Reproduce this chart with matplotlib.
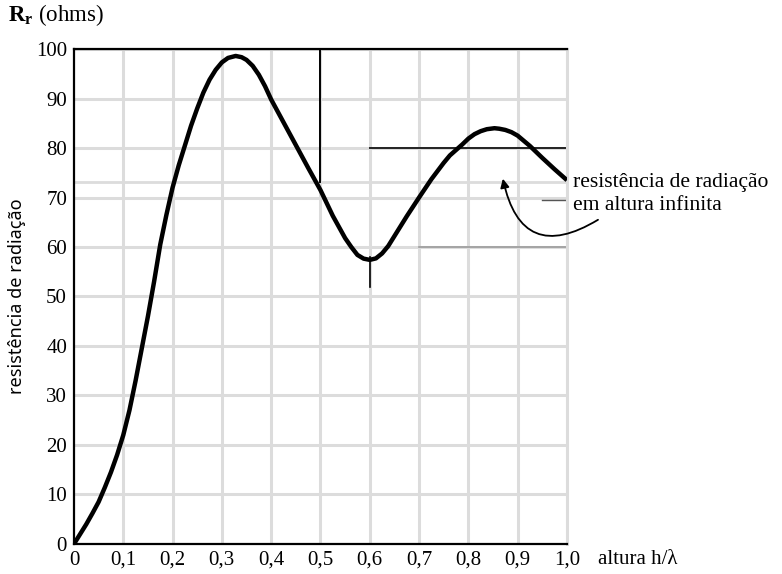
import matplotlib
matplotlib.use("Agg")
import matplotlib.pyplot as plt

# valores (altura h/lambda, resistência em ohms)
altura = [0.0, 0.0125, 0.025, 0.0375, 0.05, 0.0625, 0.075, 0.0875, 0.1, 0.1125,
          0.125, 0.1375, 0.15, 0.1625, 0.175, 0.1875,
          0.2, 0.2125, 0.225, 0.2375, 0.25, 0.2625, 0.275, 0.2875, 0.3, 0.3125,
          0.328, 0.34, 0.35, 0.3625, 0.375, 0.3875, 0.4, 0.425, 0.45, 0.475,
          0.5, 0.525, 0.55, 0.5625, 0.575, 0.5875, 0.6, 0.6125, 0.625, 0.6375,
          0.65, 0.675, 0.7, 0.725, 0.75, 0.7625, 0.775, 0.7875, 0.8, 0.8125,
          0.825, 0.8375, 0.853, 0.8625, 0.875, 0.8875, 0.9, 0.925, 0.95, 0.975, 1.0]
resistencia = [0.0, 2.0, 4.0, 6.2, 8.5, 11.4, 14.5, 18.0, 22.0, 27.0,
               33.0, 39.5, 46.0, 53.0, 60.5, 66.5,
               72.0, 76.5, 80.5, 84.5, 88.0, 91.2, 93.8, 95.8, 97.3, 98.2,
               98.6, 98.35, 97.8, 96.6, 94.8, 92.5, 89.8, 85.2, 80.6, 76.0,
               71.5, 66.3, 61.8, 60.0, 58.4, 57.65, 57.4, 57.7, 58.7, 60.2,
               62.2, 66.2, 70.0, 73.7, 77.0, 78.5, 79.6, 80.7, 81.9, 82.8,
               83.4, 83.8, 84.0, 83.9, 83.65, 83.2, 82.5, 80.4, 78.0, 75.7, 73.5]

x_ticks = [0.0, 0.1, 0.2, 0.3, 0.4, 0.5, 0.6, 0.7, 0.8, 0.9, 1.0]
x_labels = ["0", "0,1", "0,2", "0,3", "0,4", "0,5", "0,6", "0,7", "0,8", "0,9", "1,0"]
y_ticks = [0, 10, 20, 30, 40, 50, 60, 70, 80, 90, 100]
r_infinito = 73.1

plt.rcParams["font.family"] = ["Liberation Serif", "DejaVu Serif"]
plt.rcParams["mathtext.fontset"] = "custom"
plt.rcParams["mathtext.rm"] = "Liberation Serif"
plt.rcParams["mathtext.bf"] = "Liberation Serif:bold"

fig = plt.figure(figsize=(7.82, 5.74), dpi=100)
ax = fig.add_axes([0.0946, 0.0523, 0.6304, 0.8623])

grid_c = "#dcdcdc"
for xv in x_ticks[1:]:
    ax.axvline(xv, color=grid_c, lw=2.2, zorder=1)
for yv in y_ticks[1:]:
    ax.axhline(yv, color=grid_c, lw=2.2, zorder=1)
ax.axhline(r_infinito, color=grid_c, lw=2.0, zorder=1)

# linhas escuras do desenho original
ax.plot([0.5, 0.5], [r_infinito, 100], color="black", lw=1.4, zorder=2)
ax.plot([0.6, 1.0], [80, 80], color="#222222", lw=1.4, zorder=2)
ax.plot([0.6, 0.6], [52, 58], color="black", lw=1.2, zorder=2)
ax.plot([0.7, 1.0], [60, 60], color="#9a9a9a", lw=1.2, zorder=2)
ax.plot([0.95, 1.0], [69.5, 69.5], color="#555555", lw=1.0, zorder=2)

ax.plot(altura, resistencia, color="black", lw=3.2, zorder=3,
        solid_capstyle="butt", solid_joinstyle="round")

ax.set_xlim(0, 1.0)
ax.set_ylim(0, 100)
ax.set_xticks(x_ticks)
ax.set_xticklabels(x_labels)
ax.set_yticks(y_ticks)
ax.tick_params(length=0, labelsize=15, pad=5)

for s in ["left", "bottom", "top"]:
    ax.spines[s].set_color("black")
    ax.spines[s].set_linewidth(1.6)
ax.spines["right"].set_color(grid_c)
ax.spines["right"].set_linewidth(2.2)

ax.set_ylabel("resistência de radiação", family=["Noto Sans", "DejaVu Sans"],
              fontsize=13, labelpad=7)

fig.text(0.01, 0.952, r"$\mathbf{R}_\mathbf{r}$ (ohms)", fontsize=16.5,
         va="bottom", ha="left")

ax.text(1.063, -0.012, "altura h/λ", transform=ax.transAxes, fontsize=15,
        va="top", ha="left")

ax.text(1.013, 0.707, "resistência de radiação\nem altura infinita",
        transform=ax.transAxes, fontsize=15.6, va="center", ha="left",
        linespacing=1.25)

ax.annotate("", xy=(0.87, 73.8), xytext=(1.063, 65.5),
            xycoords="data", textcoords="data", annotation_clip=False,
            arrowprops=dict(arrowstyle="-|>", color="black", lw=1.3,
                            mutation_scale=13, shrinkA=0, shrinkB=0,
                            connectionstyle="arc3,rad=-0.7"))

fig.savefig("out.png", dpi=100)
